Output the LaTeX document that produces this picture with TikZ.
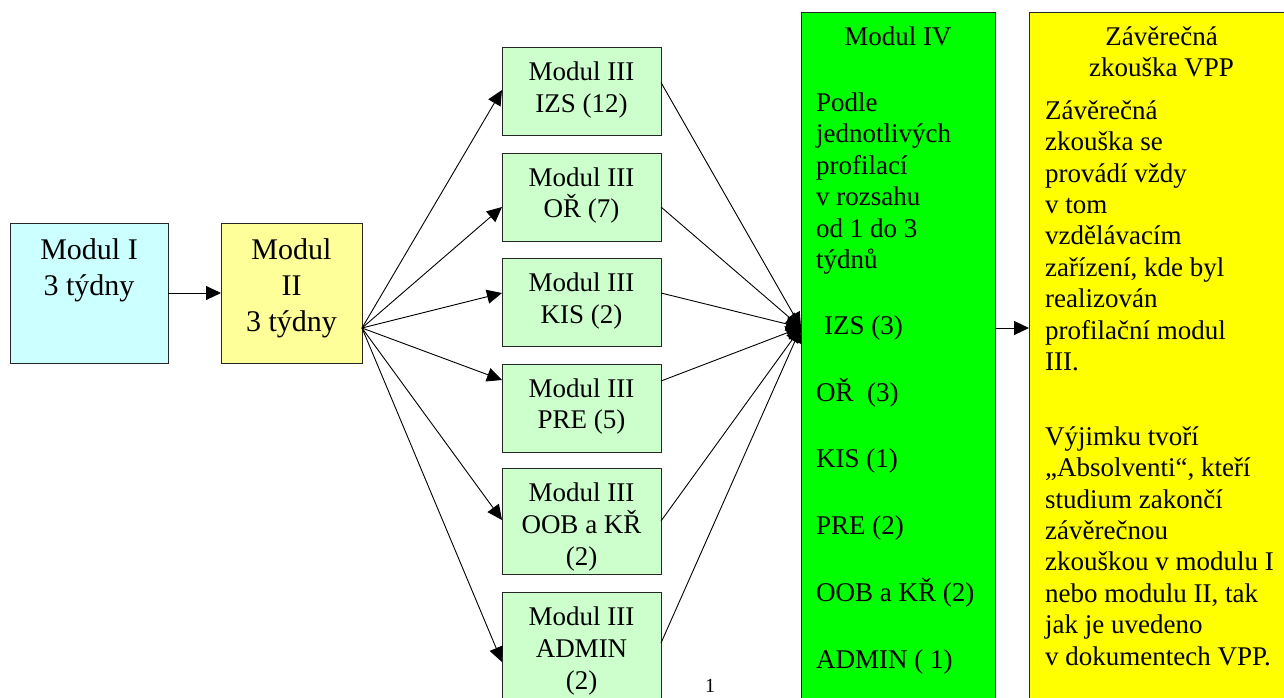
\documentclass[tikz,border=0pt]{standalone}
\usepackage{fontspec}
\setmainfont{Liberation Serif}
\usetikzlibrary{arrows.meta}
\definecolor{cyanbox}{HTML}{CCFFFF}
\definecolor{paleyellow}{HTML}{FFFF99}
\definecolor{palegreen}{HTML}{CCFFCC}
\definecolor{brightgreen}{HTML}{00FF00}
\definecolor{brightyellow}{HTML}{FFFF00}
\newcommand{\firstline}{\rule{0pt}{22pt}}
\tikzset{
  box/.style={draw=black!85, line width=1.1pt, inner sep=0pt, anchor=north west},
  bigtxt/.style={inner sep=0pt, anchor=north, align=center, font=\fontsize{30}{36}\selectfont},
  midtxt/.style={inner sep=0pt, anchor=north, align=center, font=\fontsize{27}{31.7}\selectfont},
  lefttxt/.style={inner sep=0pt, anchor=north west, align=left},
  conn/.style={line width=0.9pt, -{Triangle[length=15pt,width=14pt]}},
}
\begin{document}
\begin{tikzpicture}[x=1pt,y=-1pt]
\useasboundingbox (0,0) rectangle (1284,697);
\clip (0,0) rectangle (1284,697);
% boxes
\node[box, fill=cyanbox, minimum width=158pt, minimum height=140pt] (m1) at (10,223) {};
\node[box, fill=paleyellow, minimum width=141pt, minimum height=140pt] (m2) at (221,223) {};
\node[box, fill=palegreen, minimum width=159pt, minimum height=88pt] (b1) at (502,47) {};
\node[box, fill=palegreen, minimum width=159pt, minimum height=88pt] (b2) at (502,152.5) {};
\node[box, fill=palegreen, minimum width=159pt, minimum height=88pt] (b3) at (502,258) {};
\node[box, fill=palegreen, minimum width=159pt, minimum height=88pt] (b4) at (502,363.5) {};
\node[box, fill=palegreen, minimum width=159pt, minimum height=106pt] (b5) at (502,468) {};
\node[box, fill=palegreen, minimum width=159pt, minimum height=130pt] (b6) at (502,592) {};
\node[box, fill=brightgreen, minimum width=194pt, minimum height=720pt] (m4) at (801,12) {};
\node[box, fill=brightyellow, minimum width=280pt, minimum height=720pt] (zk) at (1029,12) {};
% texts
\node[bigtxt] (t1) at (89,237) {\firstline Modul I\\3 týdny};
\node[bigtxt] (t2) at (291.5,237) {\firstline Modul\\II\\3 týdny};
\node[midtxt] (tb1) at (581.5,58.5) {\firstline Modul III\\IZS (12)};
\node[midtxt] (tb2) at (581.5,164) {\firstline Modul III\\OŘ (7)};
\node[midtxt] (tb3) at (581.5,269.5) {\firstline Modul III\\KIS (2)};
\node[midtxt] (tb4) at (581.5,375) {\firstline Modul III\\PRE (5)};
\node[midtxt] (tb5) at (581.5,479.5) {\firstline Modul III\\OOB a KŘ\\(2)};
\node[midtxt] (tb6) at (581.5,603.5) {\firstline Modul III\\ADMIN\\(2)};
\node[midtxt] (g1) at (898,23) {\firstline Modul IV};
\node[lefttxt, font=\fontsize{27}{31.5}\selectfont] (g2) at (816,89)
  {\firstline Podle\\jednotlivých\\profilací\\v rozsahu\\od 1 do 3\\týdnů};
\node[lefttxt, font=\fontsize{27}{66.8}\selectfont] (g3) at (816,312)
  {\firstline\hspace*{8pt}IZS (3)\\OŘ~~(3)\\KIS (1)\\PRE (2)\\OOB a KŘ (2)\\ADMIN ( 1)};
\node[midtxt, font=\fontsize{27}{31}\selectfont] (y1) at (1161.5,23) {\firstline Závěrečná\\zkouška VPP};
\node[lefttxt, font=\fontsize{27}{31.4}\selectfont] (y2) at (1045,97)
  {\firstline Závěrečná\\zkouška se\\provádí vždy\\v tom\\vzdělávacím\\zařízení, kde byl\\realizován\\profilační modul\\III.};
\node[lefttxt, font=\fontsize{27}{31.4}\selectfont] (y3) at (1045,423)
  {\firstline Výjimku tvoří\\„Absolventi“, kteří\\studium zakončí\\závěrečnou\\zkouškou v modulu I\\nebo modulu II, tak\\jak je uvedeno\\v dokumentech VPP.};
\node[inner sep=0pt, anchor=north, font=\fontsize{20}{24}\selectfont] (pg) at (710,679) {1};
% connection points
\coordinate (m1out) at (168,293);
\coordinate (m2in) at (221,293);
\coordinate (fan) at (362,328);
\coordinate (i1) at (502,90);
\coordinate (i2) at (502,207);
\coordinate (i3) at (502,293);
\coordinate (i4) at (502,380);
\coordinate (i5) at (502,520);
\coordinate (i6) at (502,662);
\coordinate (o1) at (661,82.5);
\coordinate (o2) at (661,207);
\coordinate (o3) at (661,293);
\coordinate (o4) at (661,381);
\coordinate (o5) at (661,521);
\coordinate (o6) at (661,643);
\coordinate (conv) at (801,327.5);
\coordinate (m4out) at (995,328);
\coordinate (zkin) at (1029,328);
% connectors
\draw[conn] (m1out) -- (m2in);
\foreach \i in {1,...,6} {
  \draw[conn] (fan) -- (i\i);
  \draw[conn] (o\i) -- (conv);
}
\draw[conn] (m4out) -- (zkin);
\end{tikzpicture}
\end{document}
